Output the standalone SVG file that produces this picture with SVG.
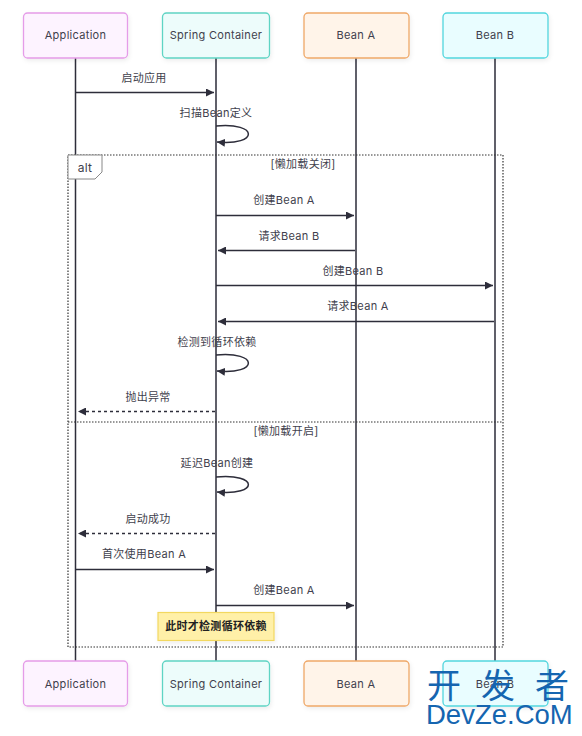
<svg xmlns="http://www.w3.org/2000/svg" width="582" height="736" viewBox="0 0 582 736">
<style>
text{font-family:"Inter","Noto Sans CJK SC",sans-serif;font-size:11px;letter-spacing:.3px;fill:#3f3f4d;text-anchor:middle}
.actor{stroke-width:1.3}
.life{stroke:#2d2d3a;stroke-width:1.5;fill:none}
.msg{stroke:#2d2d3a;stroke-width:1.5;fill:none}
.dash{stroke-dasharray:3 3}
.frame{stroke:#333;stroke-width:1.2;stroke-dasharray:1.500 1.500;fill:none}
</style>
<defs>
<marker id="arr" markerWidth="9" markerHeight="8" refX="8" refY="4" orient="auto" markerUnits="userSpaceOnUse"><path d="M0 0L8 4L0 8Z" fill="#2d2d3a"/></marker>
<filter id="sh" x="-10%" y="-10%" width="125%" height="130%"><feDropShadow dx="1" dy="2" stdDeviation="2" flood-color="#000" flood-opacity=".07"/></filter>
</defs>
<rect width="582" height="736" fill="#fff"/>
<g id="connectors">
<path class="life" d="M75.500 58V661M216 58V661M356 58V661M495 58V661"/>
<path class="frame" d="M68 155H503V647H68ZM68 422H503"/>
<path class="msg" marker-end="url(#arr)" d="M76 92.500H214"/>
<path class="msg" marker-end="url(#arr)" d="M216 126C259 122 259 146 217 142"/>
<path class="msg" marker-end="url(#arr)" d="M216 215.500H354"/>
<path class="msg" marker-end="url(#arr)" d="M355 250.500H218"/>
<path class="msg" marker-end="url(#arr)" d="M216 285.500H493"/>
<path class="msg" marker-end="url(#arr)" d="M494 321.500H218"/>
<path class="msg" marker-end="url(#arr)" d="M216 355C259 351 259 375 217 371"/>
<path class="msg dash" marker-end="url(#arr)" d="M215 411.500H78"/>
<path class="msg" marker-end="url(#arr)" d="M216 477C259 473 259 496 217 492"/>
<path class="msg dash" marker-end="url(#arr)" d="M215 533.500H78"/>
<path class="msg" marker-end="url(#arr)" d="M76 569.500H214"/>
<path class="msg" marker-end="url(#arr)" d="M216 605.500H354"/>
</g>
<g id="alt-label"><path d="M68 155H102V172L95 179H68Z" fill="#fff" stroke="#888" stroke-width="1"/><text x="85" y="172" style="font-size:12px">alt</text></g>
<g id="labels">
<text x="144" y="82">启动应用</text>
<text x="216" y="117">扫描Bean定义</text>
<text x="303" y="168">[懒加载关闭]</text>
<text x="284" y="204">创建Bean A</text>
<text x="289" y="240">请求Bean B</text>
<text x="353" y="275">创建Bean B</text>
<text x="358" y="310">请求Bean A</text>
<text x="217" y="346">检测到循环依赖</text>
<text x="148" y="401">抛出异常</text>
<text x="286" y="435">[懒加载开启]</text>
<text x="217" y="467">延迟Bean创建</text>
<text x="148" y="523">启动成功</text>
<text x="144" y="558">首次使用Bean A</text>
<text x="284" y="594">创建Bean A</text>
</g>
<g id="note"><rect x="158" y="612.500" width="116" height="28" fill="#fff0a8" stroke="#f2d860" stroke-width="1.2" filter="url(#sh)"/><text x="216" y="630" style="font-weight:600;fill:#222">此时才检测循环依赖</text></g>
<g id="app-top"><rect class="actor" x="23.500" y="13" width="104" height="45" rx="4" fill="#fdf3ff" stroke="#e59ce8" filter="url(#sh)"/><text x="75.500" y="39">Application</text></g>
<g id="spring-top"><rect class="actor" x="162.500" y="13" width="107" height="45" rx="4" fill="#edfcfb" stroke="#5fd4c4" filter="url(#sh)"/><text x="216" y="39">Spring Container</text></g>
<g id="beana-top"><rect class="actor" x="304" y="13" width="105" height="45" rx="4" fill="#fff4e9" stroke="#efa868" filter="url(#sh)"/><text x="356" y="39">Bean A</text></g>
<g id="beanb-top"><rect class="actor" x="443" y="13" width="105" height="45" rx="4" fill="#e9fdff" stroke="#52d6de" filter="url(#sh)"/><text x="495" y="39">Bean B</text></g>
<g id="app-bottom"><rect class="actor" x="23.500" y="661" width="104" height="45" rx="4" fill="#fdf3ff" stroke="#e59ce8" filter="url(#sh)"/><text x="75.500" y="688">Application</text></g>
<g id="spring-bottom"><rect class="actor" x="162.500" y="661" width="107" height="45" rx="4" fill="#edfcfb" stroke="#5fd4c4" filter="url(#sh)"/><text x="216" y="688">Spring Container</text></g>
<g id="beana-bottom"><rect class="actor" x="304" y="661" width="105" height="45" rx="4" fill="#fff4e9" stroke="#efa868" filter="url(#sh)"/><text x="356" y="688">Bean A</text></g>
<g id="beanb-bottom"><rect class="actor" x="443" y="661" width="105" height="45" rx="4" fill="#e9fdff" stroke="#52d6de" filter="url(#sh)"/><text x="495" y="688">Bean B</text></g>
<g id="watermark"><text x="427" y="698" style="font-size:34px;fill:#1565b0;letter-spacing:20px;text-anchor:start">开发者</text><text x="426" y="724" style="font-family:'Liberation Sans',sans-serif;font-size:27.500px;letter-spacing:0;fill:#1565b0;text-anchor:start">DevZe.CoM</text></g>
</svg>
